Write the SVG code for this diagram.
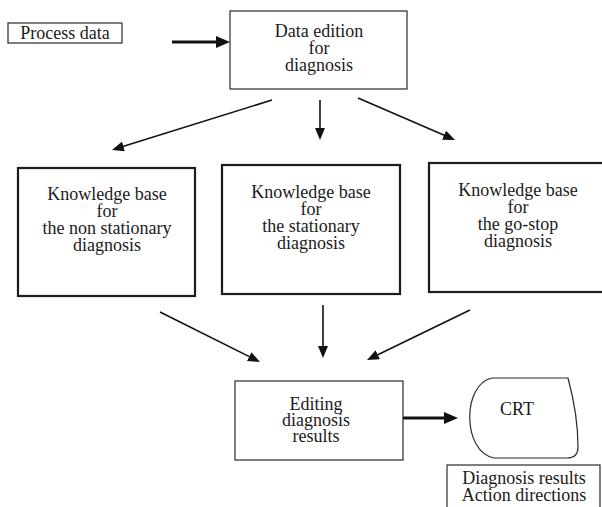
<svg xmlns="http://www.w3.org/2000/svg" width="602" height="507" viewBox="0 0 602 507">
  <style>
    .box { fill: none; stroke: #2a2a2a; stroke-width: 1.2; }
    .kb { fill: none; stroke: #1c1c1c; stroke-width: 2.2; }
    .conn { stroke: #111; stroke-width: 1.6; fill: none; }
    .conn-bold { stroke: #111; stroke-width: 3.2; fill: none; }
  </style>
  <defs>
    <marker id="head" viewBox="0 0 12 10" refX="4" refY="5" markerWidth="12" markerHeight="10" markerUnits="userSpaceOnUse" orient="auto">
      <path d="M0,0 L12,5 L0,10 z" fill="#111"/>
    </marker>
    <marker id="head-bold" viewBox="0 0 14 12" refX="6" refY="6" markerWidth="14" markerHeight="12" markerUnits="userSpaceOnUse" orient="auto">
      <path d="M0,0 L14,6 L0,12 z" fill="#111"/>
    </marker>
  </defs>

  <rect x="0" y="0" width="602" height="507" fill="#ffffff"/>

  <!-- input -->
  <g id="process-data">
    <rect class="box" x="8" y="23" width="114" height="20"/>
    <text x="65" y="39" font-family="Liberation Serif" font-size="18" fill="#1a1a1a" text-anchor="middle">Process data</text>
  </g>

  <g id="data-edition">
    <rect class="box" x="230" y="11" width="177" height="78"/>
    <text x="319" y="37" font-family="Liberation Serif" font-size="18" fill="#1a1a1a" text-anchor="middle">Data edition</text>
    <text x="319" y="54" font-family="Liberation Serif" font-size="18" fill="#1a1a1a" text-anchor="middle">for</text>
    <text x="319" y="71" font-family="Liberation Serif" font-size="18" fill="#1a1a1a" text-anchor="middle">diagnosis</text>
  </g>

  <!-- knowledge bases -->
  <g id="kb-non-stationary">
    <rect class="kb" x="18" y="168" width="177" height="128"/>
    <text x="107" y="200" font-family="Liberation Serif" font-size="18" fill="#1a1a1a" text-anchor="middle">Knowledge base</text>
    <text x="107" y="217" font-family="Liberation Serif" font-size="18" fill="#1a1a1a" text-anchor="middle">for</text>
    <text x="107" y="234" font-family="Liberation Serif" font-size="18" fill="#1a1a1a" text-anchor="middle">the non stationary</text>
    <text x="107" y="251" font-family="Liberation Serif" font-size="18" fill="#1a1a1a" text-anchor="middle">diagnosis</text>
  </g>

  <g id="kb-stationary">
    <rect class="kb" x="222" y="165" width="178" height="129"/>
    <text x="311" y="198" font-family="Liberation Serif" font-size="18" fill="#1a1a1a" text-anchor="middle">Knowledge base</text>
    <text x="311" y="215" font-family="Liberation Serif" font-size="18" fill="#1a1a1a" text-anchor="middle">for</text>
    <text x="311" y="232" font-family="Liberation Serif" font-size="18" fill="#1a1a1a" text-anchor="middle">the stationary</text>
    <text x="311" y="249" font-family="Liberation Serif" font-size="18" fill="#1a1a1a" text-anchor="middle">diagnosis</text>
  </g>

  <g id="kb-go-stop">
    <rect class="kb" x="429" y="163" width="176" height="129"/>
    <text x="518" y="196" font-family="Liberation Serif" font-size="18" fill="#1a1a1a" text-anchor="middle">Knowledge base</text>
    <text x="518" y="213" font-family="Liberation Serif" font-size="18" fill="#1a1a1a" text-anchor="middle">for</text>
    <text x="518" y="230" font-family="Liberation Serif" font-size="18" fill="#1a1a1a" text-anchor="middle">the go-stop</text>
    <text x="518" y="247" font-family="Liberation Serif" font-size="18" fill="#1a1a1a" text-anchor="middle">diagnosis</text>
  </g>

  <!-- output side -->
  <g id="editing-results">
    <rect class="box" x="235" y="381" width="168" height="79"/>
    <text x="316" y="410" font-family="Liberation Serif" font-size="18" fill="#1a1a1a" text-anchor="middle">Editing</text>
    <text x="316" y="426" font-family="Liberation Serif" font-size="18" fill="#1a1a1a" text-anchor="middle">diagnosis</text>
    <text x="316" y="442" font-family="Liberation Serif" font-size="18" fill="#1a1a1a" text-anchor="middle">results</text>
  </g>

  <g id="crt">
    <path class="box" d="M492,378 L568,378 Q578,415 578,447 Q578,458 567,458 L494,458 C462,452 462,384 492,378 Z"/>
    <text x="517" y="415" font-family="Liberation Serif" font-size="18" fill="#1a1a1a" text-anchor="middle">CRT</text>
  </g>

  <g id="crt-contents">
    <rect class="box" x="447" y="465" width="153" height="50"/>
    <text x="524" y="484" font-family="Liberation Serif" font-size="18" fill="#1a1a1a" text-anchor="middle">Diagnosis results</text>
    <text x="524" y="501" font-family="Liberation Serif" font-size="18" fill="#1a1a1a" text-anchor="middle">Action directions</text>
  </g>

  <!-- connectors -->
  <g id="connectors">
    <line class="conn-bold" x1="172" y1="42" x2="222" y2="42" marker-end="url(#head-bold)"/>
    <line class="conn" x1="272" y1="100" x2="119.6" y2="147.6" marker-end="url(#head)"/>
    <line class="conn" x1="320" y1="100" x2="320" y2="132" marker-end="url(#head)"/>
    <line class="conn" x1="358" y1="98" x2="447.7" y2="136.8" marker-end="url(#head)"/>
    <line class="conn" x1="160" y1="312" x2="252.8" y2="358.4" marker-end="url(#head)"/>
    <line class="conn" x1="323" y1="305" x2="323" y2="350" marker-end="url(#head)"/>
    <line class="conn" x1="470" y1="310" x2="374.2" y2="356.5" marker-end="url(#head)"/>
    <line class="conn-bold" x1="403" y1="418" x2="450" y2="418" marker-end="url(#head-bold)"/>
  </g>
</svg>
